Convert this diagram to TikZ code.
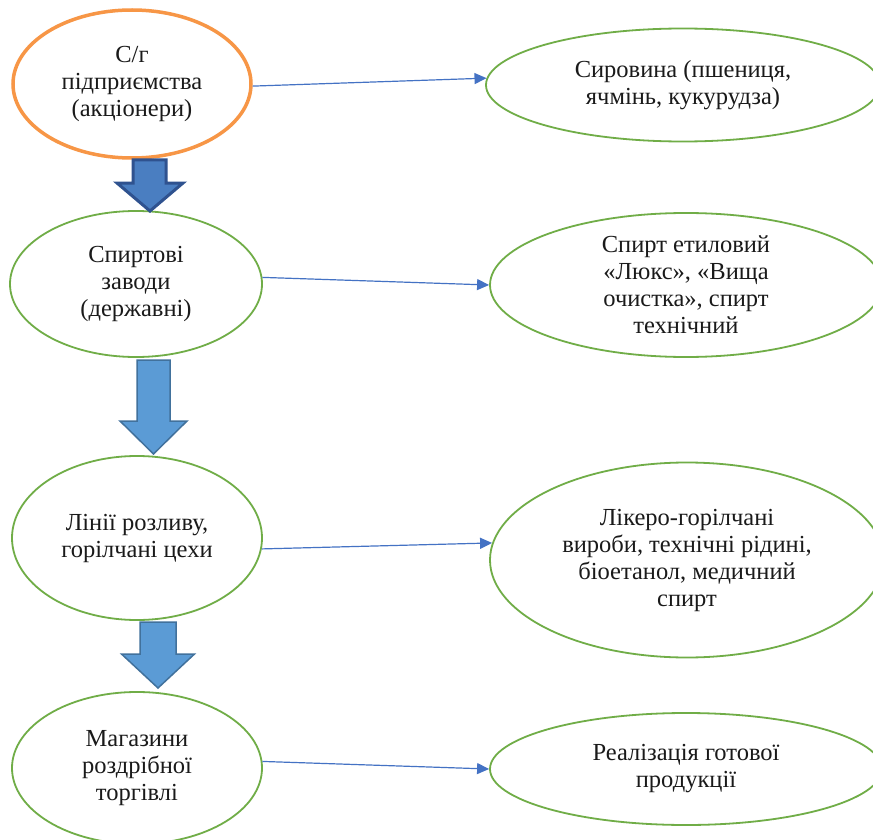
\documentclass[tikz,border=0pt]{standalone}
\usepackage{fontspec}
\setmainfont{Liberation Serif}
\usetikzlibrary{
  arrows.meta,
  shapes.geometric,
  calc
}
\definecolor{spOrange}{HTML}{F79646}
\definecolor{spGreen}{HTML}{70AD47}
\definecolor{spLine}{HTML}{4472C4}
\definecolor{spDark}{HTML}{4A7EC1}
\definecolor{spDarkEdge}{HTML}{2F528F}
\definecolor{spBlue}{HTML}{5B9BD5}
\definecolor{spBlueEdge}{HTML}{41719C}
\definecolor{spText}{HTML}{1A1A1A}
\tikzset{
  spnode/.style={
    draw, ellipse, inner sep=0pt, align=center, fill=white, text=spText,
    font=\fontsize{24.5}{27}\selectfont
  },
  owner/.style={spnode, draw=spOrange, line width=3.5pt},
  stage/.style={spnode, draw=spGreen, line width=1.8pt},
  product/.style={spnode, draw=spGreen, line width=1.8pt},
  supply/.style={-{Triangle[length=12pt, width=11pt]}, line width=1.2pt, spLine},
  bigdark/.style={fill=spDark, draw=spDarkEdge, line width=3pt, line join=miter},
  bigblue/.style={fill=spBlue, draw=spBlueEdge, line width=1.5pt, line join=miter}
}

\begin{document}
\begin{tikzpicture}[x=1pt, y=-1pt]
  \fill[white] (0,0) rectangle (873,840);
  \useasboundingbox (0,0) rectangle (873,840);

  % left column
  \node[owner, minimum width=238pt, minimum height=148pt] (owners) at (132,84) {С/г\\підприємства\\(акціонери)};
  \node[stage, minimum width=252pt, minimum height=146pt] (plants) at (136,284) {Спиртові\\заводи\\(державні)};
  \node[stage, minimum width=250pt, minimum height=164pt] (lines) at (137,538) {Лінії розливу,\\горілчані цехи};
  \node[stage, minimum width=250pt, minimum height=152pt] (shops) at (137,768) {Магазини\\роздрібної\\торгівлі};

  % right column
  \node[product, minimum width=394pt, minimum height=113pt] (grain) at (683,85) {Сировина (пшениця,\\ячмінь, кукурудза)};
  \node[product, minimum width=392pt, minimum height=144pt] (spirit) at (686,285) {Спирт етиловий\\«Люкс», «Вища\\очистка», спирт\\технічний};
  \node[product, minimum width=394pt, minimum height=195pt] (drinks) at (687,560) {Лікеро-горілчані\\вироби, технічні рідині,\\біоетанол, медичний\\спирт};
  \node[product, minimum width=392pt, minimum height=112pt] (sales) at (686,769) {Реалізація готової\\продукції};

  \foreach \s/\e in {owners.-1/grain.178, plants.3/spirit.180, lines.-5/drinks.175, shops.3/sales.180}{\draw[supply] (\s) -- (\e);}

  % block arrows down the left column
  \draw[bigdark] (133,160) -- (166,160) -- (166,183) -- (183,183) -- (150,211) -- (117,183) -- (133,183) -- cycle;
  \foreach \c/\t/\m/\b/\w/\h in {153.5/360/421/454/16.5/33.5, 158/622/654/688/18/36.5}{
    \draw[bigblue] (\c-\w,\t) -- (\c+\w,\t) -- (\c+\w,\m) -- (\c+\h,\m) -- (\c,\b) -- (\c-\h,\m) -- (\c-\w,\m) -- cycle;
  }
\end{tikzpicture}
\end{document}
